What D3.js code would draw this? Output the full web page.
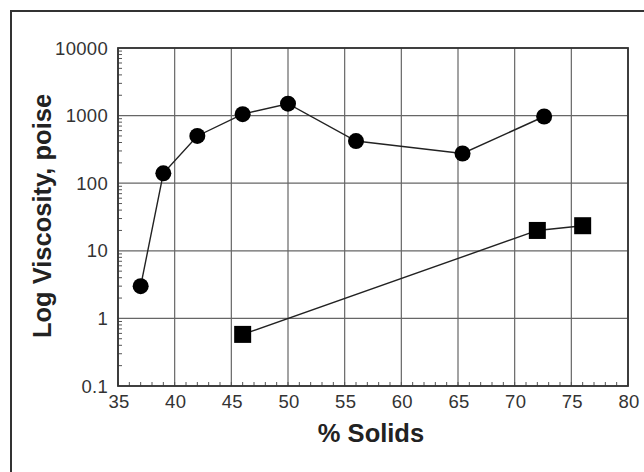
<!DOCTYPE html>
<html>
<head>
<meta charset="utf-8">
<script src="https://cdn.jsdelivr.net/npm/d3@7"></script>
<style>
  body { margin: 0; background: #fff; }
  svg { display: block; }
  .tick-label { font-family: "Liberation Sans", Arial, sans-serif; font-size: 18.5px; letter-spacing: 0.3px; fill: #333; }
  .axis-title { font-family: "Liberation Sans", Arial, sans-serif; font-size: 25.5px; font-weight: bold; fill: #222; }
</style>
</head>
<body>
<div id="chart"></div>
<script>
// datos
const circleSolids = [37, 39, 42, 46, 50, 56, 65.4, 72.6];
const circleVisc = [3, 140, 500, 1050, 1500, 420, 275, 970];
const squareSolids = [46, 72, 76];
const squareVisc = [0.58, 20, 23.5];

const xTicks = [35, 40, 45, 50, 55, 60, 65, 70, 75, 80];
const yTicks = [0.1, 1, 10, 100, 1000, 10000];
const yTickLabels = ["0.1", "1", "10", "100", "1000", "10000"];

const w = 644, h = 472;
const plot = { left: 118, top: 48, right: 628, bottom: 386 };

const svg = d3.select("#chart")
    .append("svg")
    .attr("width", w)
    .attr("height", h);

// marco exterior
svg.append("rect")
    .attr("x", 11).attr("y", 11)
    .attr("width", 700).attr("height", 600)
    .attr("fill", "none")
    .attr("stroke", "#333")
    .attr("stroke-width", 2);

const xScale = d3.scaleLinear()
    .domain([35, 80])
    .range([plot.left, plot.right]);

const yScale = d3.scaleLog()
    .domain([0.1, 10000])
    .range([plot.bottom, plot.top]);

// cuadricula
svg.append("g")
    .selectAll("line")
    .data(xTicks)
    .enter()
    .append("line")
    .attr("x1", d => xScale(d)).attr("x2", d => xScale(d))
    .attr("y1", plot.top).attr("y2", plot.bottom)
    .attr("stroke", "#666").attr("stroke-width", 1.2);

svg.append("g")
    .selectAll("line")
    .data(yTicks)
    .enter()
    .append("line")
    .attr("x1", plot.left).attr("x2", plot.right)
    .attr("y1", d => yScale(d)).attr("y2", d => yScale(d))
    .attr("stroke", "#666").attr("stroke-width", 1.2);

// ticks menores
const xMinor = d3.range(35, 81, 1);
svg.append("g")
    .selectAll("line")
    .data(xMinor)
    .enter()
    .append("line")
    .attr("x1", d => xScale(d)).attr("x2", d => xScale(d))
    .attr("y1", plot.bottom).attr("y2", plot.bottom - 4)
    .attr("stroke", "#555").attr("stroke-width", 1);

const yMinor = [];
yTicks.slice(0, -1).forEach(dec => {
    for (let k = 2; k <= 9; k++) yMinor.push(dec * k);
});
svg.append("g")
    .selectAll("line")
    .data(yMinor)
    .enter()
    .append("line")
    .attr("x1", plot.left).attr("x2", plot.left + 4)
    .attr("y1", d => yScale(d)).attr("y2", d => yScale(d))
    .attr("stroke", "#555").attr("stroke-width", 1);

// borde del area
svg.append("rect")
    .attr("x", plot.left).attr("y", plot.top)
    .attr("width", plot.right - plot.left)
    .attr("height", plot.bottom - plot.top)
    .attr("fill", "none")
    .attr("stroke", "#333")
    .attr("stroke-width", 1.8);

// etiquetas de los ejes
svg.append("g")
    .selectAll("text")
    .data(xTicks)
    .enter()
    .append("text")
    .attr("class", "tick-label")
    .attr("x", d => xScale(d) + 1)
    .attr("y", 408)
    .attr("text-anchor", "middle")
    .text(d => d);

svg.append("g")
    .selectAll("text")
    .data(yTicks)
    .enter()
    .append("text")
    .attr("class", "tick-label")
    .attr("x", 108)
    .attr("y", d => yScale(d) + 6.5)
    .attr("text-anchor", "end")
    .text((d, i) => yTickLabels[i]);

// lineas de datos
const circleData = circleSolids.map((s, i) => [s, circleVisc[i]]);
const squareData = squareSolids.map((s, i) => [s, squareVisc[i]]);

const line = d3.line()
    .x(d => xScale(d[0]))
    .y(d => yScale(d[1]));

svg.append("path")
    .datum(circleData)
    .attr("d", line)
    .attr("fill", "none")
    .attr("stroke", "#222")
    .attr("stroke-width", 1.4);

svg.append("path")
    .datum(squareData)
    .attr("d", line)
    .attr("fill", "none")
    .attr("stroke", "#222")
    .attr("stroke-width", 1.4);

svg.append("g")
    .selectAll("circle")
    .data(circleData)
    .enter()
    .append("circle")
    .attr("cx", d => xScale(d[0]))
    .attr("cy", d => yScale(d[1]))
    .attr("r", 8)
    .attr("fill", "#000");

const sq = 17;
svg.append("g")
    .selectAll("rect")
    .data(squareData)
    .enter()
    .append("rect")
    .attr("x", d => xScale(d[0]) - sq / 2)
    .attr("y", d => yScale(d[1]) - sq / 2)
    .attr("width", sq).attr("height", sq)
    .attr("fill", "#000");

// titulos
svg.append("text")
    .attr("class", "axis-title")
    .attr("x", (plot.left + plot.right) / 2 - 2)
    .attr("y", 442)
    .attr("text-anchor", "middle")
    .text("% Solids");

svg.append("text")
    .attr("class", "axis-title")
    .attr("transform", "translate(51,216) rotate(-90)")
    .attr("text-anchor", "middle")
    .text("Log Viscosity, poise");
</script>
</body>
</html>
